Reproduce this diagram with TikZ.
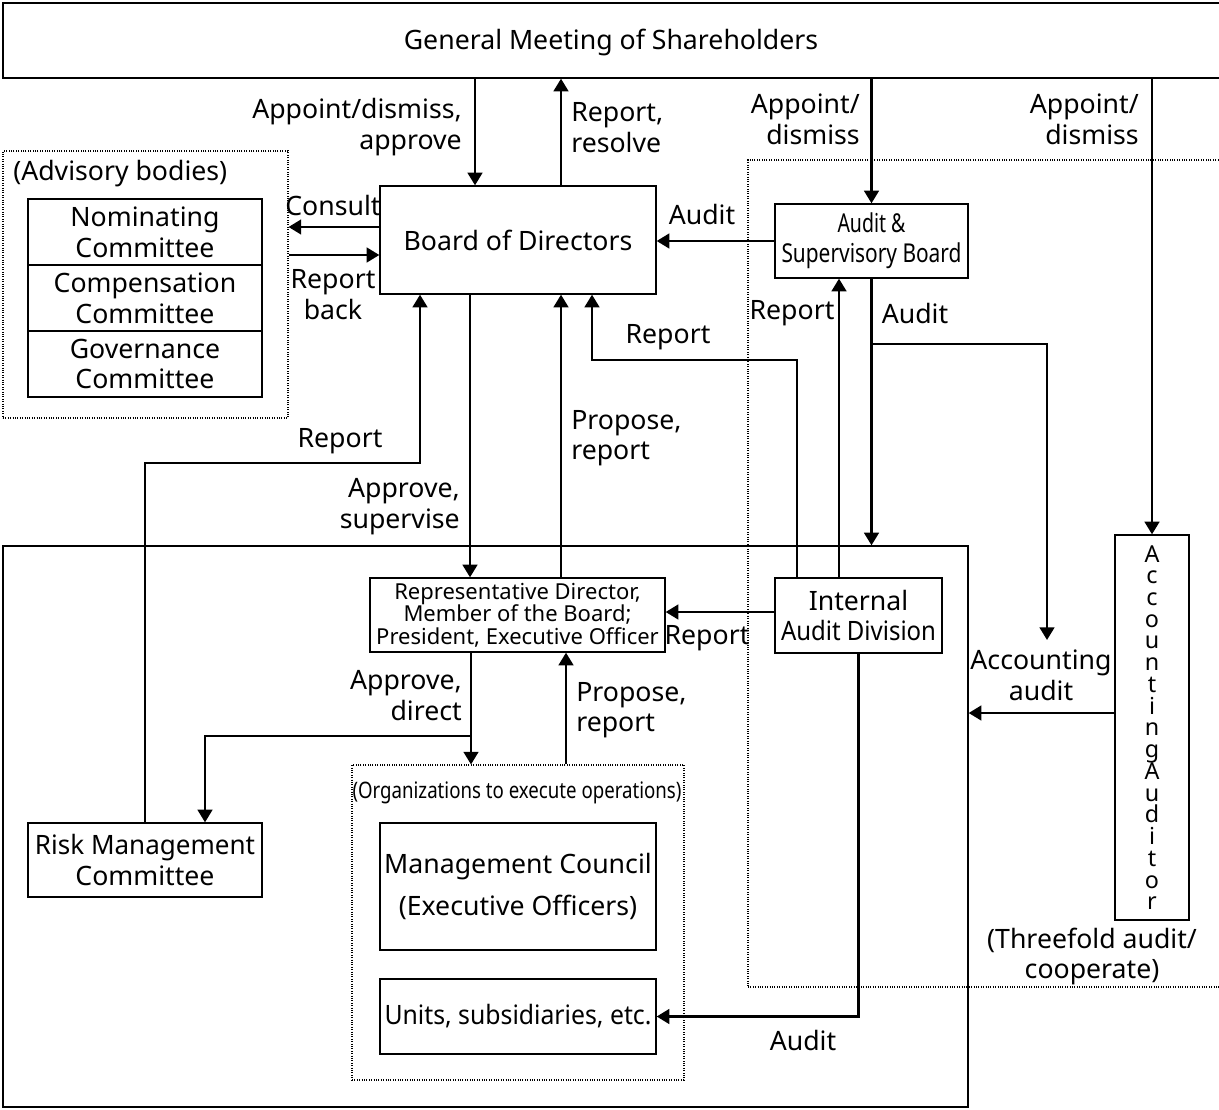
\documentclass[tikz,border=0pt]{standalone}
\usepackage{fontspec}
\setmainfont{Noto Sans}
\usetikzlibrary{arrows.meta}
\newlength\pxu \setlength\pxu{0.75pt}
\newcommand\hfit[2]{\resizebox{#1\pxu}{\height}{#2}}
\lineskiplimit=-100pt
\begin{document}
\begin{tikzpicture}[x=0.75pt,y=-0.75pt,
  box/.style={draw, line width=1pt, inner sep=0pt, align=center},
  dotbox/.style={draw, densely dotted, line width=0.8pt, inner sep=0pt},
  arr/.style={line width=1.9pt, -{Triangle[length=9.5pt,width=11pt]}},
  lbl/.style={inner sep=0pt, align=center, yshift=-1pt},
  bigfont/.style={font=\fontsize{20}{23}\selectfont},
  smallfont/.style={font=\fontsize{16.5}{16.9}\selectfont},
  bigfont]
\useasboundingbox (0,0) rectangle (1219,1109);
\fill[white] (0,0) rectangle (1219,1109);

% dotted frames
\node[dotbox, minimum width=213.75pt, minimum height=200.25pt] (adv) at (145.5,284.5) {};
\node[dotbox, minimum width=357.75pt, minimum height=620.25pt] (three) at (986.5,573.5) {};
\node[box, minimum width=723.75pt, minimum height=420.75pt] (exec) at (485.5,826.5) {};
\node[dotbox, minimum width=249pt, minimum height=236.25pt] (org) at (518,922.5) {};

% boxes
\node[box, minimum width=916.5pt, minimum height=56.25pt] (gms) at (614,40.5) {};
\node[inner sep=0pt, anchor=base] (gmst) at (611,50) {General Meeting of Shareholders};
\node[box, minimum width=207pt, minimum height=81pt] (bod) at (518,240) {Board of Directors};
\node[box, minimum width=175.5pt, minimum height=49.5pt] (nom) at (145,232) {Nominating\\Committee};
\node[box, minimum width=175.5pt, minimum height=49.5pt] (comp) at (145,298) {Compensation\\Committee};
\node[box, minimum width=175.5pt, minimum height=49.5pt] (gov) at (145,364) {Governance\\Committee};
\node[box, minimum width=144.75pt, minimum height=55.5pt, font=\fontsize{19.5}{22.5}\selectfont] (asb) at (871.5,241) {\hfit{68}{Audit \&}\\\hfit{180}{Supervisory Board}};
\node[box, minimum width=55.5pt, minimum height=288.75pt, font=\fontsize{17.5}{16.3}\selectfont] (aud) at (1152,727.5) {A\\c\\c\\o\\u\\n\\t\\i\\n\\g\\A\\u\\d\\i\\t\\o\\r};
\node[box, minimum width=221.25pt, minimum height=55.5pt, smallfont] (rd) at (517.5,615) {Representative Director,\\Member of the Board;\\President, Executive Officer};
\node[box, minimum width=125.25pt, minimum height=56.25pt] (iad) at (858.5,615.5) {Internal\\\hfit{155}{Audit Division}};
\node[box, minimum width=175.5pt, minimum height=55.5pt] (rm) at (145,860) {\hfit{220}{Risk Management}\\Committee};
\node[box, minimum width=207pt, minimum height=95.25pt, font=\fontsize{20}{32}\selectfont] (mc) at (518,886.5) {Management Council\\(Executive Officers)};
\node[box, minimum width=207pt, minimum height=56.25pt] (units) at (518,1016.5) {\hfit{267}{Units, subsidiaries, etc.}};

% text labels
\node[lbl, anchor=west] (advl) at (13,172) {(Advisory bodies)};
\node[lbl, font=\fontsize{17}{20}\selectfont] (orgl) at (517,792) {\hfit{329}{(Organizations to execute operations)}};
\node[lbl, align=right, anchor=east] (l1) at (462,126) {Appoint/dismiss,\\approve};
\node[lbl, align=left, anchor=west] (l2) at (571,126) {Report,\\resolve};
\node[lbl, align=right, anchor=east] (l3) at (860,118) {Appoint/\\dismiss};
\node[lbl, align=right, anchor=east] (l4) at (1139,118) {Appoint/\\dismiss};
\node[lbl] (l5) at (333,204) {Consult};
\node[lbl] (l6) at (333,293) {Report\\back};
\node[lbl] (l7) at (702,213) {Audit};
\node[lbl] (l8) at (792,312) {Report};
\node[lbl] (l9) at (915,312) {Audit};
\node[lbl] (l10) at (668,336) {Report};
\node[lbl] (l11) at (340,440) {Report};
\node[lbl, align=left, anchor=west] (l12) at (571,437) {Propose,\\report};
\node[lbl, align=right, anchor=east] (l13) at (460,505) {Approve,\\supervise};
\node[lbl] (l14) at (707,637) {Report};
\node[lbl] (l15) at (1041,674) {Accounting\\audit};
\node[lbl, align=right, anchor=east] (l16) at (462,694) {Approve,\\direct};
\node[lbl, align=left, anchor=west] (l17) at (576,709) {Propose,\\report};
\node[lbl] (l18) at (1092,955) {(Threefold audit/\\cooperate)};
\node[lbl] (l19) at (803,1039) {Audit};

% coordinates for free ends / junctions
\coordinate (j1) at (asb.south |- 0,344);
\coordinate (aa) at (1047,640);
\coordinate (j2) at (rd.south -| 471,0);
\coordinate (j3) at (471,736);

% connectors
\draw[arr] (475,0 |- gms.south) -- (475,0 |- bod.north);
\draw[arr] (561,0 |- bod.north) -- (561,0 |- gms.south);
\draw[arr] (asb.north |- gms.south) -- (asb.north);
\draw[arr] (aud.north |- gms.south) -- (aud.north);
\draw[arr] (bod.west |- 0,227) -- (adv.east |- 0,227);
\draw[arr] (adv.east |- 0,255) -- (bod.west |- 0,255);
\draw[arr] (asb.west) -- (bod.east |- asb.west);
\draw[arr] (asb.south) -- (asb.south |- exec.north);
\draw[arr] (j1) -| (aa);
\draw[arr] (iad.north -| 839,0) -- (asb.south -| 839,0);
\draw[arr] (iad.north -| 797,0) |- (592,360) -- (bod.south -| 592,0);
\draw[arr] (bod.south -| 470,0) -- (rd.north -| 470,0);
\draw[arr] (rd.north -| 561,0) -- (bod.south -| 561,0);
\draw[arr] (rm.north) |- (420,463) -- (bod.south -| 420,0);
\draw[arr] (iad.west |- 0,612) -- (rd.east |- 0,612);
\draw[arr] (aud.west |- 0,713) -- (exec.east |- 0,713);
\draw[arr] (j2) -- (org.north -| 471,0);
\draw[arr] (j3) -| (rm.north -| 205,0);
\draw[arr] (org.north -| 566,0) -- (rd.south -| 566,0);
\draw[arr] (iad.south) |- (units.east);
\end{tikzpicture}
\end{document}
